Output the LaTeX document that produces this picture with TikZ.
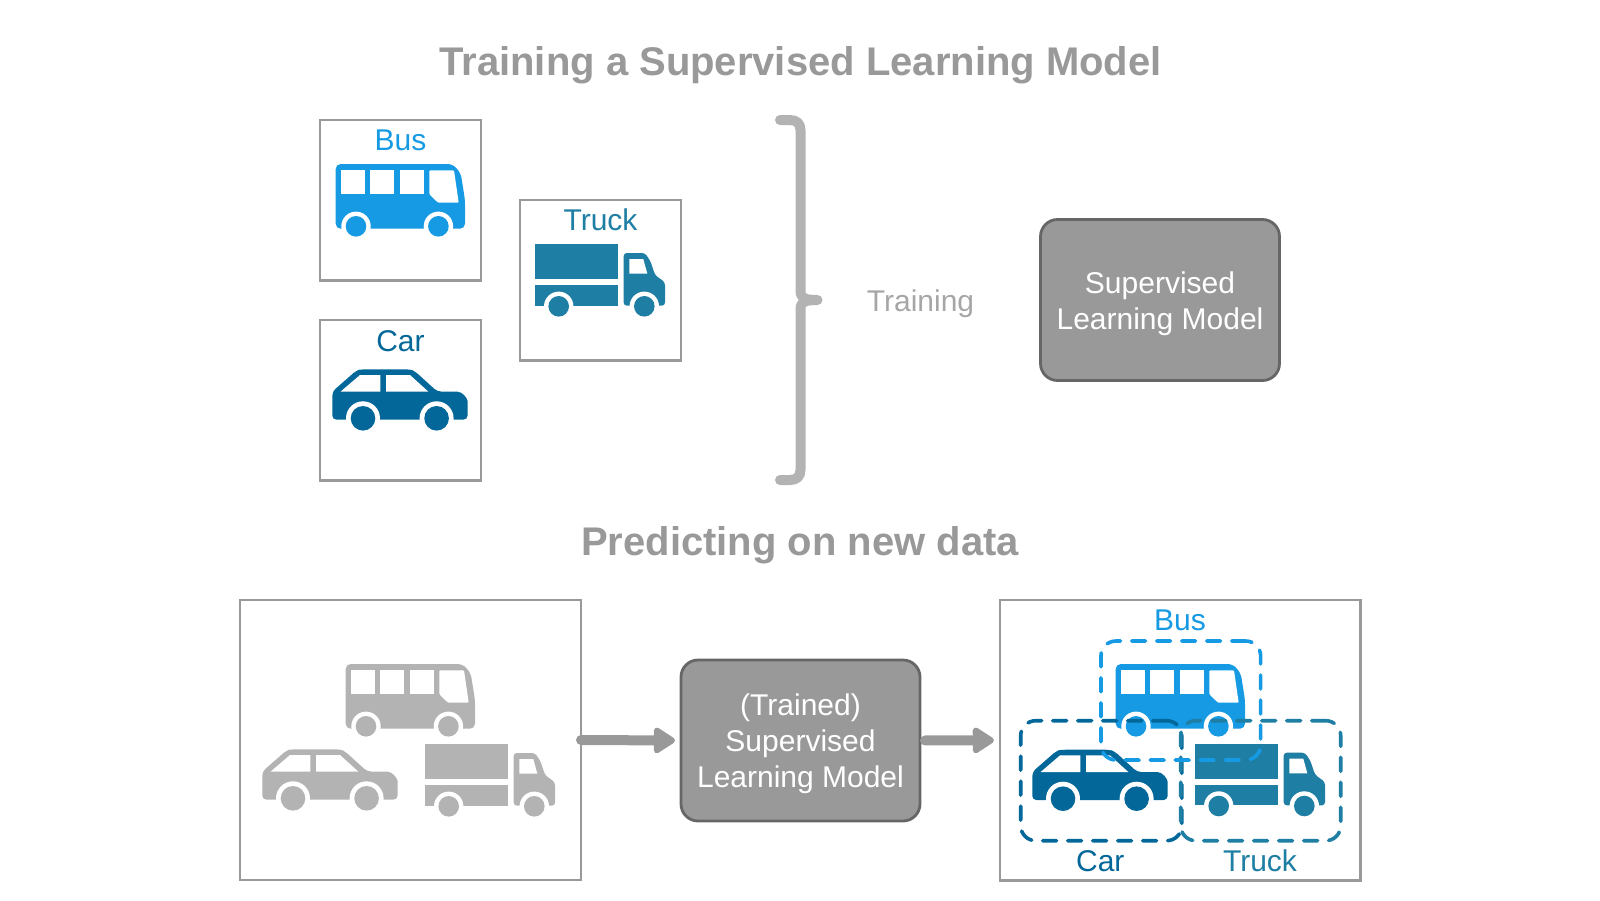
\documentclass[tikz,border=0pt]{standalone}
\usepackage{fontspec}
\setmainfont{Liberation Sans}
\usepackage{tikz}
\usetikzlibrary{arrows.meta, positioning, calc}

\definecolor{busblue}{HTML}{159AE3}
\definecolor{truckblue}{HTML}{1F7EA3}
\definecolor{carblue}{HTML}{036799}
\definecolor{framegray}{HTML}{999999}
\definecolor{edgegray}{HTML}{666666}
\definecolor{icongray}{HTML}{B3B3B3}
\definecolor{trainingtext}{HTML}{A6A6A6}

\tikzset{
  pics/busicon/.style={code={
    \fill[#1, rounded corners=5pt] (0,0) -- (117,0) -- (125,9) -- (129.3,36) -- (129.3,64.7) -- (0,64.7) -- cycle;
    \fill[white] (5.3,6.3) rectangle (29.3,29.7);
    \fill[white] (34.7,6.3) rectangle (58.7,29.7);
    \fill[white] (64.3,6.3) rectangle (88,29.7);
    \fill[white, rounded corners=1pt] (93.7,6.3) -- (118.3,6.3) -- (123,38.7) -- (102.3,38.7) -- (93.7,30.3) -- cycle;
    \foreach \wx in {20.3,102.7} {
      \fill[white] (\wx,62.3) circle[radius=14.7];
      \fill[#1] (\wx,62.3) circle[radius=10.3];
    }
  }},
  pics/truckicon/.style={code={
    \fill[#1] (0,0) rectangle (82.7,35);
    \fill[#1] (0,41) rectangle (82.7,61.3);
    \fill[#1, rounded corners=3pt] (88.7,8.7) -- (110,8.7) -- (115.5,17) -- (120,30.7) -- (130,38) -- (130,61.3) -- (88.7,61.3) -- cycle;
    \fill[white] (94.3,14.7) -- (108.3,14.7) -- (112.3,29.3) -- (94.3,29.3) -- cycle;
    \foreach \wx in {23.7,109.3} {
      \fill[white] (\wx,62) circle[radius=14.7];
      \fill[#1] (\wx,62) circle[radius=10.3];
    }
  }},
  pics/caricon/.style={code={
    \fill[#1, rounded corners=4pt] (0,22.3) -- (24.3,1) -- (29.3,0) -- (77.7,0) -- (82.7,2) -- (105,22.3)
      -- (121,22.3) .. controls (130,22.3) and (135.3,29) .. (135.3,36) -- (135.3,50.3) -- (0,50.3) -- cycle;
    \fill[white] (8.3,22.3) -- (27.7,5.7) -- (48,5.7) -- (48,22.3) -- cycle;
    \fill[white] (53.7,5.7) -- (77.7,5.7) -- (96,22.3) -- (53.7,22.3) -- cycle;
    \foreach \wx in {30.7,104.3} {
      \fill[white] (\wx,49) circle[radius=17];
      \fill[#1] (\wx,49) circle[radius=12.3];
    }
  }},
  framebox/.style={draw=framegray, line width=2.8pt, fill=white, outer sep=0pt, inner sep=0pt},
  modelbox/.style={draw=edgegray, line width=2.8pt, fill=framegray, rounded corners=17pt, outer sep=0pt,
    minimum width=239pt, minimum height=161pt},
  modeltext/.style={text=white, align=center, font=\fontsize{30}{36}\selectfont},
  titletext/.style={text=framegray, font=\fontsize{40}{48}\selectfont\bfseries},
  iconlabel/.style={anchor=base, inner sep=0pt, font=\fontsize{30}{36}\selectfont},
  dashbox/.style={draw=#1, line width=3.6pt, dash pattern=on 14pt off 11pt, line cap=round, rounded corners=15pt},
  flowarrow/.style={-{Triangle[length=24pt, width=29pt, round, line width=8pt]}, line width=10pt,
    line cap=round, framegray}
}

\begin{document}
\begin{tikzpicture}[x=1pt, y=-1pt]
  \useasboundingbox (0,0) rectangle (1600,900);

  % Training part
  \node[titletext] (traintitle) at (800.5,65) {Training a Supervised Learning Model};
  \node[framebox, minimum width=161pt, minimum height=160.7pt] (busbox) at (400.5,200.4) {};
  \node[framebox, minimum width=161pt, minimum height=160.7pt, below=39.3pt of busbox] (carbox) {};
  \node[framebox, minimum width=161pt, minimum height=160.7pt, right=39pt of busbox, yshift=-80pt] (truckbox) {};
  \node[iconlabel, text=busblue] (buslabel) at ($(busbox.north)+(0,30.5)$) {Bus};
  \node[iconlabel, text=carblue] (carlabel) at ($(carbox.north)+(0,31)$) {Car};
  \node[iconlabel, text=truckblue] (trucklabel) at ($(truckbox.north)+(0,30.5)$) {Truck};
  \pic at (335.7,164) {busicon=busblue};
  \pic at (332.3,369.3) {caricon=carblue};
  \pic at (535,244.3) {truckicon=truckblue};

  % Brace and trained model
  \draw[line width=10pt, icongray, line cap=round, line join=round]
    (780,120) -- (790,120) .. controls (797,120) and (800.5,124) .. (800.5,130) -- (800.5,290)
    .. controls (800.5,297) and (802,300) .. (817.5,300) .. controls (802,300) and (800.5,303) .. (800.5,310)
    -- (800.5,470) .. controls (800.5,476) and (797,480) .. (790,480) -- (780,480);
  \node[text=trainingtext, font=\fontsize{30}{36}\selectfont] (trainlabel) at (920.5,303.5) {Training};
  \node[modelbox] (trainmodel) at (1160,300) {};
  \node[modeltext] (trainmodeltext) at ($(trainmodel)+(0,3.5)$) {Supervised\\Learning Model};

  % Prediction part
  \node[titletext] (predtitle) at (800,545.5) {Predicting on new data};
  \node[framebox, minimum width=341pt, minimum height=280pt] (inbox) at (410.5,740) {};
  \node[modelbox] (predmodel) at (800.5,740.5) {};
  \node[modeltext] (predmodeltext) at ($(predmodel)+(0,3)$) {(Trained)\\Supervised\\Learning Model};
  \node[framebox, minimum width=360.7pt, minimum height=280.7pt] (outbox) at (1180.3,740.3) {};
  \draw[flowarrow, shorten >=6pt] (inbox.east) -- (predmodel.west);
  \draw[flowarrow, shorten <=5pt, shorten >=6pt] (predmodel.east) -- (outbox.west);

  % Unlabelled vehicles
  \pic at (345.7,664) {busicon=icongray};
  \pic at (262.3,749.3) {caricon=icongray};
  \pic at (425,744.3) {truckicon=icongray};

  % Predicted vehicles
  \pic at (1115.7,664) {busicon=busblue};
  \pic at (1032.3,749.7) {caricon=carblue};
  \pic at (1195,744) {truckicon=truckblue};
  \node[dashbox=carblue, minimum width=161pt, minimum height=120pt, outer sep=0pt] (carframe) at (1101.2,780.7) {};
  \node[dashbox=truckblue, minimum width=160pt, minimum height=120pt, outer sep=0pt, right=-1pt of carframe] (truckframe) {};
  \node[dashbox=busblue, minimum width=159.7pt, minimum height=119pt, outer sep=0pt] (busframe) at (1180.8,700.5) {};
  \node[iconlabel, text=busblue] (busname) at (1180,630.5) {Bus};
  \node[iconlabel, text=carblue] (carname) at (1100.3,871) {Car};
  \node[iconlabel, text=truckblue] (truckname) at (1260,871) {Truck};
\end{tikzpicture}
\end{document}
